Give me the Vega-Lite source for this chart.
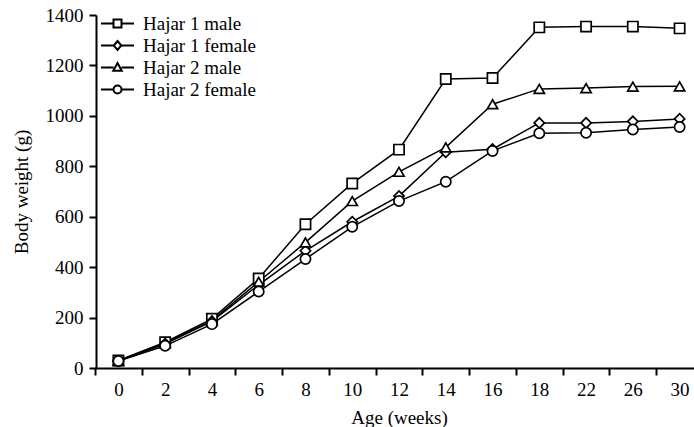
{
  "$schema": "https://vega.github.io/schema/vega-lite/v6.json",
  "width": 598,
  "height": 353,
  "autosize": "none",
  "padding": {"left": 96, "top": 15, "right": 0, "bottom": 59},
  "background": "white",
  "config": {
    "view": {"stroke": null},
    "font": "Liberation Serif",
    "axis": {"grid": false, "domainColor": "black", "domainWidth": 2, "tickColor": "black", "tickWidth": 2, "tickSize": 7, "labelColor": "black", "labelFont": "Liberation Serif", "labelFontSize": 19, "titleFont": "Liberation Serif", "titleFontSize": 19, "titleFontWeight": "normal", "titleColor": "black"}
  },
  "data": {"values": [
    {"week": 0, "series": "Hajar 1 male", "bw": 30},
    {"week": 2, "series": "Hajar 1 male", "bw": 102},
    {"week": 4, "series": "Hajar 1 male", "bw": 195},
    {"week": 6, "series": "Hajar 1 male", "bw": 355},
    {"week": 8, "series": "Hajar 1 male", "bw": 570},
    {"week": 10, "series": "Hajar 1 male", "bw": 732},
    {"week": 12, "series": "Hajar 1 male", "bw": 866},
    {"week": 14, "series": "Hajar 1 male", "bw": 1146},
    {"week": 16, "series": "Hajar 1 male", "bw": 1150},
    {"week": 18, "series": "Hajar 1 male", "bw": 1351},
    {"week": 22, "series": "Hajar 1 male", "bw": 1354},
    {"week": 26, "series": "Hajar 1 male", "bw": 1354},
    {"week": 30, "series": "Hajar 1 male", "bw": 1347},
    {"week": 0, "series": "Hajar 1 female", "bw": 28},
    {"week": 2, "series": "Hajar 1 female", "bw": 96},
    {"week": 4, "series": "Hajar 1 female", "bw": 185},
    {"week": 6, "series": "Hajar 1 female", "bw": 330},
    {"week": 8, "series": "Hajar 1 female", "bw": 465},
    {"week": 10, "series": "Hajar 1 female", "bw": 580},
    {"week": 12, "series": "Hajar 1 female", "bw": 682},
    {"week": 14, "series": "Hajar 1 female", "bw": 856},
    {"week": 16, "series": "Hajar 1 female", "bw": 868},
    {"week": 18, "series": "Hajar 1 female", "bw": 972},
    {"week": 22, "series": "Hajar 1 female", "bw": 972},
    {"week": 26, "series": "Hajar 1 female", "bw": 978},
    {"week": 30, "series": "Hajar 1 female", "bw": 988},
    {"week": 0, "series": "Hajar 2 male", "bw": 28},
    {"week": 2, "series": "Hajar 2 male", "bw": 98},
    {"week": 4, "series": "Hajar 2 male", "bw": 188},
    {"week": 6, "series": "Hajar 2 male", "bw": 342},
    {"week": 8, "series": "Hajar 2 male", "bw": 498},
    {"week": 10, "series": "Hajar 2 male", "bw": 662},
    {"week": 12, "series": "Hajar 2 male", "bw": 778},
    {"week": 14, "series": "Hajar 2 male", "bw": 875},
    {"week": 16, "series": "Hajar 2 male", "bw": 1046},
    {"week": 18, "series": "Hajar 2 male", "bw": 1107},
    {"week": 22, "series": "Hajar 2 male", "bw": 1110},
    {"week": 26, "series": "Hajar 2 male", "bw": 1116},
    {"week": 30, "series": "Hajar 2 male", "bw": 1117},
    {"week": 0, "series": "Hajar 2 female", "bw": 28},
    {"week": 2, "series": "Hajar 2 female", "bw": 88},
    {"week": 4, "series": "Hajar 2 female", "bw": 174},
    {"week": 6, "series": "Hajar 2 female", "bw": 303},
    {"week": 8, "series": "Hajar 2 female", "bw": 432},
    {"week": 10, "series": "Hajar 2 female", "bw": 560},
    {"week": 12, "series": "Hajar 2 female", "bw": 662},
    {"week": 14, "series": "Hajar 2 female", "bw": 739},
    {"week": 16, "series": "Hajar 2 female", "bw": 861},
    {"week": 18, "series": "Hajar 2 female", "bw": 931},
    {"week": 22, "series": "Hajar 2 female", "bw": 933},
    {"week": 26, "series": "Hajar 2 female", "bw": 946},
    {"week": 30, "series": "Hajar 2 female", "bw": 956}
  ]},
  "encoding": {
    "x": {"field": "week", "type": "ordinal", "scale": {"type": "band", "paddingInner": 0, "paddingOuter": 0, "range": [-1, 607]}, "axis": {"title": "Age (weeks)", "labelAngle": 0, "tickBand": "extent", "labelPadding": 5, "titlePadding": 9}},
    "y": {"field": "bw", "type": "quantitative", "scale": {"domain": [0, 1400], "nice": false}, "axis": {"title": "Body weight (g)", "format": "d", "values": [0, 200, 400, 600, 800, 1000, 1200, 1400], "labelPadding": 6, "titlePadding": 14}}
  },
  "layer": [
    {
      "mark": {"type": "line", "color": "black", "strokeWidth": 1.5},
      "encoding": {"detail": {"field": "series"}}
    },
    {
      "mark": {"type": "point", "filled": false, "color": "black", "fill": "white", "fillOpacity": 1, "strokeWidth": 1.7, "size": 105, "opacity": 1},
      "encoding": {
        "shape": {"field": "series", "type": "nominal",
          "scale": {"domain": ["Hajar 1 male", "Hajar 1 female", "Hajar 2 male", "Hajar 2 female"], "range": ["square", "diamond", "triangle-up", "circle"]},
          "legend": null
        }
      }
    },
    {
      "transform": [{"filter": "datum.bw < 0"}],
      "mark": {"type": "point", "filled": false, "color": "black", "fill": "white", "fillOpacity": 1, "strokeWidth": 2, "opacity": 1},
      "encoding": {
        "shape": {"field": "series", "type": "nominal",
          "scale": {"domain": ["Hajar 1 male", "Hajar 1 female", "Hajar 2 male", "Hajar 2 female"],
            "range": ["M-3.3,0H-0.8M0.8,0H3.3M-0.8,-0.8H0.8V0.8H-0.8Z", "M-3.3,0H-0.75M0.75,0H3.3M0,-0.9L0.75,0L0,0.9L-0.75,0Z", "M-3.3,0H-0.8M0.8,0H3.3M0,-0.9L0.85,0.65H-0.85Z", "M-3.3,0H-0.8M0.8,0H3.3M-0.8,0A0.8,0.8,0,1,1,0.8,0A0.8,0.8,0,1,1,-0.8,0Z"]},
          "legend": {
            "title": null, "orient": "none", "legendX": 12, "legendY": -1,
            "symbolSize": 100, "labelOffset": 16, "rowPadding": 2,
            "labelFontSize": 19, "labelColor": "black", "symbolStrokeWidth": 2
          }
        }
      }
    }
  ],
  "resolve": {"scale": {"shape": "independent"}}
}
